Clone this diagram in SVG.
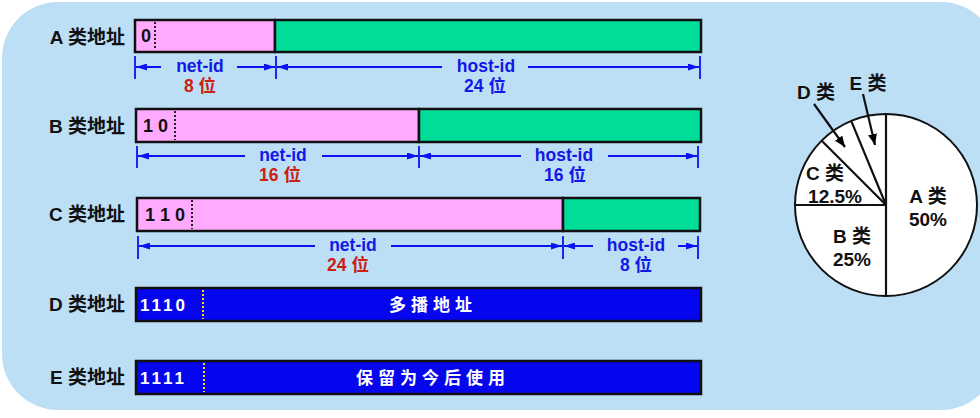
<svg xmlns="http://www.w3.org/2000/svg" width="980" height="418" viewBox="0 0 980 418">
<defs>
<marker id="ah" markerUnits="userSpaceOnUse" markerWidth="11" markerHeight="7" refX="11" refY="3.5" orient="auto">
<path d="M0,0 L11,3.5 L0,7 z" fill="#0a14f0"/>
</marker>
<marker id="pk" markerUnits="userSpaceOnUse" markerWidth="11" markerHeight="9" refX="11" refY="4.5" orient="auto">
<path d="M0,0 L11,4.5 L0,9 z" fill="#000"/>
</marker>
</defs>
<style>
.lbl{font-family:"Liberation Sans","Noto Sans CJK SC",sans-serif;font-weight:bold;font-size:19px;fill:#111;text-anchor:end}
.bits{font-family:"Liberation Sans","Noto Sans CJK SC",sans-serif;font-weight:bold;font-size:18px;fill:#111}
.wbits{font-family:"Liberation Sans","Noto Sans CJK SC",sans-serif;font-weight:bold;font-size:17px;fill:#fff}
.wtxt{font-family:"Noto Sans CJK SC",sans-serif;font-weight:bold;font-size:17px;fill:#fff;text-anchor:middle;letter-spacing:5px}
.net{fill:#ffaaff;stroke:#111;stroke-width:2.5}
.host{fill:#00dd99;stroke:#111;stroke-width:2.5}
.blue{fill:#0505ee;stroke:#111;stroke-width:2.5}
.dot{stroke:#222;stroke-width:2;stroke-dasharray:2,2}
.ydot{stroke:#ffdd00;stroke-width:2;stroke-dasharray:2,2}
.dim{stroke:#0a14f0;stroke-width:2;fill:none}
.tick{stroke:#0a14f0;stroke-width:1.8}
.bt{font-family:"Liberation Sans","Noto Sans CJK SC",sans-serif;font-weight:bold;font-size:17.5px;fill:#1418e6;text-anchor:middle}
.rt{font-family:"Liberation Sans","Noto Sans CJK SC",sans-serif;font-weight:bold;font-size:17.5px;fill:#cc2010;text-anchor:middle}
.pie{fill:#fff;stroke:#111;stroke-width:2}
.pl{stroke:#111;stroke-width:2.2}
.pt{font-family:"Liberation Sans","Noto Sans CJK SC",sans-serif;font-weight:bold;font-size:19px;fill:#111;text-anchor:middle}
</style>
<rect x="0" y="0" width="980" height="418" fill="#ffffff"/>
<rect x="2" y="2" width="995" height="408" rx="56" ry="56" fill="#bddff6"/>

<g id="classA">
<text class="lbl" x="125" y="44">A 类地址</text>
<rect class="net" x="135" y="20" width="140" height="32"/>
<rect class="host" x="275" y="20" width="426" height="32"/>
<line class="dot" x1="155" y1="22" x2="155" y2="50"/>
<text class="bits" x="141" y="42">0</text>
</g>
<g id="classB">
<text class="lbl" x="125" y="133">B 类地址</text>
<rect class="net" x="136" y="109" width="283" height="33"/>
<rect class="host" x="419" y="109" width="282" height="33"/>
<line class="dot" x1="175" y1="111" x2="175" y2="140"/>
<text class="bits" x="143" y="132">1 0</text>
</g>
<g id="classC">
<text class="lbl" x="125" y="221">C 类地址</text>
<rect class="net" x="137" y="198" width="426" height="33"/>
<rect class="host" x="563" y="198" width="137" height="33"/>
<line class="dot" x1="192" y1="200" x2="192" y2="229"/>
<text class="bits" x="145" y="221">1 1 0</text>
</g>
<g id="classD">
<text class="lbl" x="125" y="311">D 类地址</text>
<rect class="blue" x="136" y="288" width="565" height="33"/>
<line class="ydot" x1="203" y1="290" x2="203" y2="319"/>
<text class="wbits" x="140" y="311" letter-spacing="3">1110</text>
<text class="wtxt" x="433" y="311">多播地址</text>
</g>
<g id="classE">
<text class="lbl" x="125" y="384">E 类地址</text>
<rect class="blue" x="136" y="361" width="565" height="33"/>
<line class="ydot" x1="204" y1="363" x2="204" y2="392"/>
<text class="wbits" x="140" y="384" letter-spacing="3">1111</text>
<text class="wtxt" x="433" y="384">保留为今后使用</text>
</g>

<g id="connectors">
<line class="tick" x1="135" y1="56" x2="135" y2="79"/>
<line class="tick" x1="276" y1="56" x2="276" y2="79"/>
<line class="tick" x1="700" y1="56" x2="700" y2="79"/>
<line class="dim" x1="161" y1="67" x2="136" y2="67" marker-end="url(#ah)"/>
<line class="dim" x1="237" y1="67" x2="275" y2="67" marker-end="url(#ah)"/>
<line class="dim" x1="442" y1="67" x2="277" y2="67" marker-end="url(#ah)"/>
<line class="dim" x1="528" y1="67" x2="699" y2="67" marker-end="url(#ah)"/>
<line class="tick" x1="137" y1="146" x2="137" y2="168"/>
<line class="tick" x1="419" y1="146" x2="419" y2="168"/>
<line class="tick" x1="698" y1="146" x2="698" y2="168"/>
<line class="dim" x1="245" y1="156" x2="138" y2="156" marker-end="url(#ah)"/>
<line class="dim" x1="322" y1="156" x2="418" y2="156" marker-end="url(#ah)"/>
<line class="dim" x1="521" y1="156" x2="420" y2="156" marker-end="url(#ah)"/>
<line class="dim" x1="608" y1="156" x2="697" y2="156" marker-end="url(#ah)"/>
<line class="tick" x1="138" y1="236" x2="138" y2="259"/>
<line class="tick" x1="563" y1="236" x2="563" y2="259"/>
<line class="tick" x1="698" y1="236" x2="698" y2="259"/>
<line class="dim" x1="315" y1="246" x2="139" y2="246" marker-end="url(#ah)"/>
<line class="dim" x1="391" y1="246" x2="562" y2="246" marker-end="url(#ah)"/>
<line class="dim" x1="593" y1="246" x2="564" y2="246" marker-end="url(#ah)"/>
<line class="dim" x1="678" y1="246" x2="697" y2="246" marker-end="url(#ah)"/>
</g>

<g id="dimLabels">
<text class="bt" x="200" y="72">net-id</text>
<text class="rt" x="200" y="92">8 位</text>
<text class="bt" x="486" y="72">host-id</text>
<text class="bt" x="485" y="92">24 位</text>
<text class="bt" x="283" y="161">net-id</text>
<text class="rt" x="280" y="181">16 位</text>
<text class="bt" x="564" y="161">host-id</text>
<text class="bt" x="565" y="181">16 位</text>
<text class="bt" x="353" y="251">net-id</text>
<text class="rt" x="348" y="271">24 位</text>
<text class="bt" x="636" y="251">host-id</text>
<text class="bt" x="636" y="271">8 位</text>
</g>

<g id="pieChart">
<circle class="pie" cx="886" cy="205" r="91"/>
<line class="pl" x1="886" y1="114" x2="886" y2="296"/>
<line class="pl" x1="886" y1="205" x2="795" y2="205"/>
<line class="pl" x1="886" y1="205" x2="821.7" y2="140.7"/>
<line class="pl" x1="886" y1="205" x2="851.2" y2="120.9"/>
<text class="pt" x="928" y="203">A 类</text>
<text class="pt" x="928" y="226">50%</text>
<text class="pt" x="852" y="243">B 类</text>
<text class="pt" x="852" y="266">25%</text>
<text class="pt" x="825" y="180">C 类</text>
<text class="pt" x="835" y="203">12.5%</text>
<text class="pt" x="816" y="99">D 类</text>
<text class="pt" x="868" y="90">E 类</text>
<line class="pl" x1="814" y1="104" x2="845" y2="147" stroke-width="1.5" marker-end="url(#pk)"/>
<line class="pl" x1="863" y1="94" x2="875" y2="145" stroke-width="1.5" marker-end="url(#pk)"/>
</g>
</svg>
